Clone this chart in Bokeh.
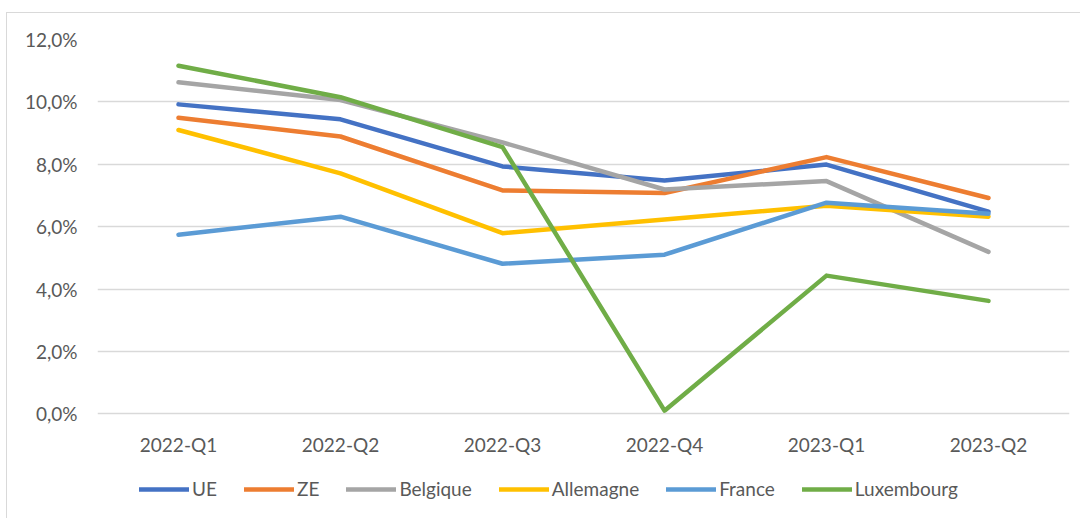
from bokeh.plotting import figure
from bokeh.models import Range1d, FactorRange, FixedTicker, Legend, LegendItem, ColumnDataSource
from bokeh.embed import file_html
from bokeh.resources import INLINE

quarters = ["2022-Q1", "2022-Q2", "2022-Q3", "2022-Q4", "2023-Q1", "2023-Q2"]
series_names = ["UE", "ZE", "Belgique", "Allemagne", "France", "Luxembourg"]
ue = [9.92, 9.44, 7.93, 7.48, 7.99, 6.48]
ze = [9.49, 8.89, 7.16, 7.08, 8.23, 6.92]
belgique = [10.63, 10.06, 8.70, 7.19, 7.46, 5.19]
allemagne = [9.10, 7.71, 5.79, 6.23, 6.67, 6.32]
france = [5.74, 6.32, 4.81, 5.10, 6.77, 6.41]
luxembourg = [11.16, 10.15, 8.55, 0.10, 4.43, 3.62]
y_ticks = [0, 2, 4, 6, 8, 10, 12]

series_values = [ue, ze, belgique, allemagne, france, luxembourg]
colors = ["#4472C4", "#ED7D31", "#A5A5A5", "#FFC000", "#5B9BD5", "#70AD47"]

FONT = "Lato"
TXT = "#595959"

# frame: 12% at page y=39, 0% at y=413.3; frame bottom extended to hold the legend
px_per_unit = (413.3 - 39) / 12
frame_h = 506 - 26 - 9
y_start = 12 - frame_h / px_per_unit

p = figure(width=1074, height=506, x_range=FactorRange(*quarters, range_padding=0),
           y_range=Range1d(y_start, 12), output_backend="svg", toolbar_location=None,
           min_border_left=90, min_border_right=12, min_border_top=26, min_border_bottom=9)
p.styles = {"margin-left": "6px", "margin-top": "12px",
            "border-left": "1px solid #d9d9d9", "border-top": "1px solid #d9d9d9"}
p.outline_line_color = None
p.background_fill_color = "white"

items = []
for name, vals, col in zip(series_names, series_values, colors):
    src = ColumnDataSource(dict(x=quarters, y=vals))
    r = p.line("x", "y", source=src, line_color=col, line_width=4.5, line_join="round", line_cap="round")
    items.append(LegendItem(label=name, renderers=[r]))

p.xgrid.visible = False
p.ygrid.grid_line_color = "#d9d9d9"
p.ygrid.grid_line_width = 1.3

p.yaxis.ticker = FixedTicker(ticks=y_ticks)
p.yaxis.major_label_overrides = {t: f"{t:.1f}".replace(".", ",") + "%" for t in y_ticks}
p.xaxis.fixed_location = 0
for ax in (p.xaxis[0], p.yaxis[0]):
    ax.axis_line_color = None
    ax.major_tick_line_color = None
    ax.minor_tick_line_color = None
    ax.major_tick_out = 0
    ax.major_tick_in = 0
    ax.major_label_text_font = FONT
    ax.major_label_text_font_size = "19px"
    ax.major_label_text_color = TXT
p.yaxis.major_label_standoff = 20
p.xaxis.major_label_standoff = 19

legend = Legend(items=items, orientation="horizontal", location=(42, 10),
                glyph_width=50, glyph_height=20, label_height=20, label_standoff=3,
                spacing=27, padding=0, margin=0, border_line_color=None,
                background_fill_alpha=0,
                label_text_font=FONT, label_text_font_size="19px", label_text_color=TXT)
p.add_layout(legend, "center")

open("out.html", "w").write(file_html(p, INLINE))
